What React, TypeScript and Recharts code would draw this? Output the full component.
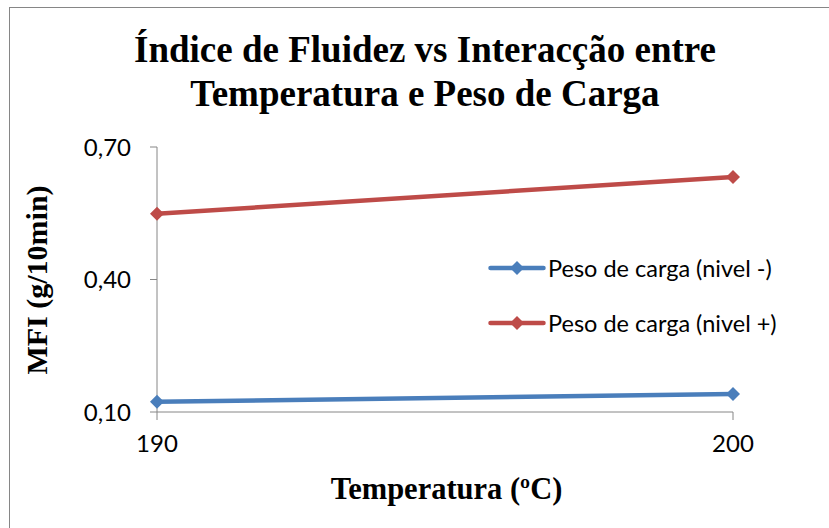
import { Legend, Line, LineChart, XAxis, YAxis } from "recharts"

const temperatures = ["190", "200"]
const pesoNivelMenos = [0.123, 0.141]
const pesoNivelMais = [0.549, 0.632]
const yTicks = [0.1, 0.4, 0.7]

const SERIES = [
  { key: "menos", name: "Peso de carga (nivel -)", color: "#4A7EBB" },
  { key: "mais", name: "Peso de carga (nivel +)", color: "#BE4B48" },
]

const data = temperatures.map((t, i) => ({
  temp: t,
  menos: pesoNivelMenos[i],
  mais: pesoNivelMais[i],
}))

const SANS = "Lato, 'Open Sans', sans-serif"
const SERIF = "'Liberation Serif', 'Times New Roman', serif"
const AXIS = "#868686"

const fmt = (v: number) => v.toFixed(2).replace(".", ",")

function Diamond(props: any) {
  const { cx, cy, fill } = props
  if (cx == null || cy == null) return null
  const r = 7
  return (
    <polygon
      points={`${cx},${cy - r} ${cx + r},${cy} ${cx},${cy + r} ${cx - r},${cy}`}
      fill={fill}
    />
  )
}

// keep series order (recharts sorts legend items by name otherwise)
function LegendBox({ payload }: any) {
  const items = SERIES.map((s) => (payload || []).find((p: any) => p.value === s.name)).filter(Boolean)
  return (
    <div>
      {items.map((p: any) => (
        <div key={p.value} style={{ display: "flex", alignItems: "center", height: 55 }}>
          <svg width={58} height={16}>
            <line x1={2.5} y1={8} x2={55.5} y2={8} stroke={p.color} strokeWidth={4.5} strokeLinecap="round" />
            <Diamond cx={29} cy={8} fill={p.color} />
          </svg>
          <span style={{ fontFamily: SANS, fontSize: 23.5, color: "#000", marginLeft: 2 }}>{p.value}</span>
        </div>
      ))}
    </div>
  )
}

export default function App() {
  return (
    <div style={{ position: "absolute", left: 0, top: 0, width: 829, height: 528, overflow: "hidden", background: "#fff" }}>
      <div style={{ position: "absolute", left: 9, top: 7, width: 900, height: 600, border: "1px solid #868686" }} />
      <div
        style={{
          position: "absolute", left: 0, width: 850, top: 28, textAlign: "center",
          fontFamily: SERIF, fontWeight: "bold", fontSize: 37, lineHeight: "44px", color: "#000",
        }}
      >
        Índice de Fluidez vs Interacção entre
        <br />
        Temperatura e Peso de Carga
      </div>
      <div
        style={{
          position: "absolute", left: 0, width: 893, top: 472, textAlign: "center",
          fontFamily: SERIF, fontWeight: "bold", fontSize: 30.5, lineHeight: "34px", color: "#000",
        }}
      >
        Temperatura (ºC)
      </div>
      <div
        style={{
          position: "absolute", left: 37, top: 280, transform: "translate(-50%, -50%) rotate(-90deg)",
          whiteSpace: "nowrap", fontFamily: SERIF, fontWeight: "bold", fontSize: 30, lineHeight: "34px", color: "#000",
        }}
      >
        MFI (g/10min)
      </div>
      <div style={{ position: "absolute", left: 0, top: 0 }}>
        <LineChart width={829} height={528} data={data} margin={{ top: 147, right: 96, bottom: 86, left: 97 }}>
          <XAxis
            dataKey="temp"
            height={30}
            stroke={AXIS}
            tickSize={8}
            tickMargin={15}
            tick={{ fill: "#000", fontFamily: SANS, fontSize: 24 }}
          />
          <YAxis
            width={60}
            domain={[0.1, 0.7]}
            ticks={yTicks}
            tickFormatter={fmt}
            stroke={AXIS}
            tickSize={7}
            tickMargin={19}
            tick={{ fill: "#000", fontFamily: SANS, fontSize: 24 }}
          />
          <Legend
            layout="horizontal"
            verticalAlign="middle"
            align="center"
            content={<LegendBox />}
            wrapperStyle={{ left: 488, top: 240, width: 335 }}
          />
          {SERIES.map((s) => (
            <Line
              key={s.key}
              dataKey={s.key}
              name={s.name}
              stroke={s.color}
              strokeWidth={4.5}
              dot={<Diamond fill={s.color} />}
              activeDot={false}
              isAnimationActive={false}
            />
          ))}
        </LineChart>
      </div>
    </div>
  )
}
